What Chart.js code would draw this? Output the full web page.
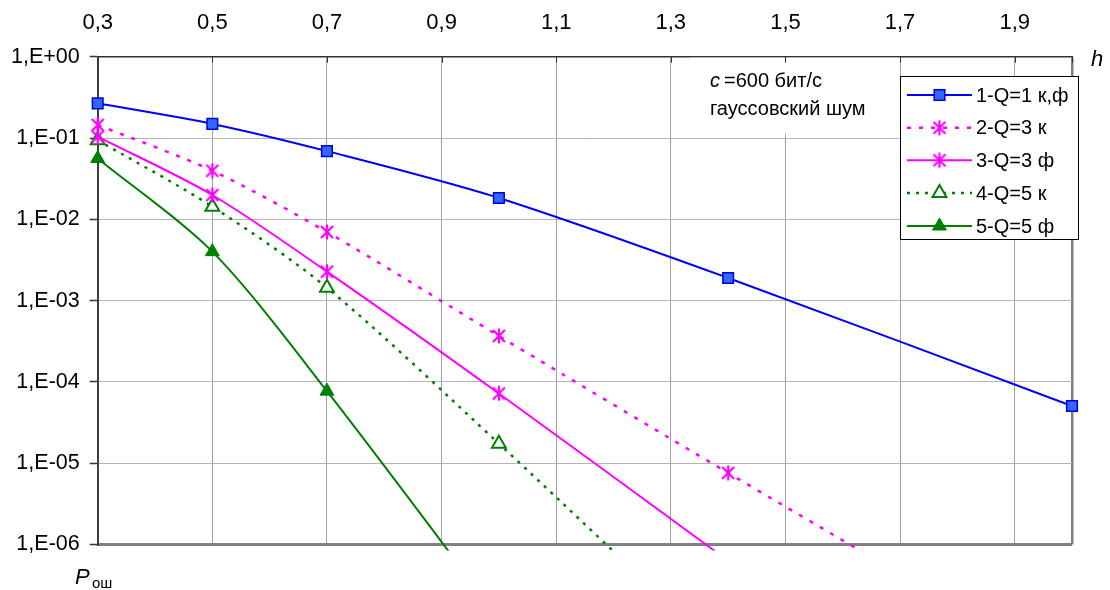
<!DOCTYPE html>
<html>
<head>
<meta charset="utf-8">
<script src="https://cdn.jsdelivr.net/npm/chart.js@4"></script>
<style>
  html, body { margin: 0; padding: 0; background: #fff; }
  #wrap { width: 1110px; height: 590px; }
</style>
</head>
<body>
<div id="wrap"><canvas id="myChart" width="1110" height="590"></canvas></div>
<script>
// значения h (ось X сверху)
const hValues = [0.3, 0.5, 0.7, 1.0, 1.4, 2.0];
const xTicks = [0.3, 0.5, 0.7, 0.9, 1.1, 1.3, 1.5, 1.7, 1.9, 2.0];
const yTicks = [1e-6, 1e-5, 1e-4, 1e-3, 1e-2, 1e-1, 1];

// вероятность ошибки Pош для каждой кривой
const labels = ['1-Q=1 к,ф', '2-Q=3 к', '3-Q=3 ф', '4-Q=5 к', '5-Q=5 ф'];
const q1kf = [0.267, 0.149, 0.069, 0.0183, 0.0019, 5.06e-5];
const q3k = [0.145, 0.0396, 0.00698, 3.67e-4, 7.6e-6, 2.5e-8];
const q3f = [0.104, 0.0199, 0.00227, 7.2e-5, 6.3e-7];
const q5k = [0.094, 0.0143, 0.00144, 1.74e-5, 3.8e-8];
const q5f = [0.056, 0.0040, 7.7e-5, 1.25e-7];

const FONT = '"Liberation Sans", Arial, sans-serif';

function toPoints(ys) {
  return ys.map((y, i) => ({ x: hValues[i], y: y }));
}

// маркер-звёздочка как в Excel (крест + вертикальная черта)
function makeStar(color) {
  const s = 16;
  const c = document.createElement('canvas');
  c.width = s; c.height = s;
  const g = c.getContext('2d');
  g.strokeStyle = color;
  g.lineWidth = 2.2;
  g.beginPath();
  g.moveTo(s / 2, 0.5); g.lineTo(s / 2, s - 0.5);
  g.moveTo(2, 2); g.lineTo(s - 2, s - 2);
  g.moveTo(s - 2, 2); g.lineTo(2, s - 2);
  g.stroke();
  return c;
}
const starMagenta = makeStar('#FF00FF');

const clipArea = { left: 10, top: 10, right: 10, bottom: 6 };

const datasets = [{
  label: labels[0],
  data: toPoints(q1kf),
  borderColor: '#0000FF',
  borderWidth: 2,
  pointStyle: 'rect',
  pointRadius: 7.5,
  pointBackgroundColor: '#3366FF',
  pointBorderColor: '#0000DD',
  pointBorderWidth: 1.5
}, {
  label: labels[1],
  data: toPoints(q3k),
  borderColor: '#FF00FF',
  borderWidth: 2.5,
  borderDash: [4, 8],
  pointStyle: starMagenta,
  pointRadius: 7
}, {
  label: labels[2],
  data: toPoints(q3f),
  borderColor: '#FF00FF',
  borderWidth: 2,
  pointStyle: starMagenta,
  pointRadius: 7
}, {
  label: labels[3],
  data: toPoints(q5k),
  borderColor: '#008000',
  borderWidth: 2.5,
  borderDash: [3, 6],
  pointStyle: 'triangle',
  pointRadius: 8,
  pointBackgroundColor: '#FFFFFF',
  pointBorderColor: '#008000',
  pointBorderWidth: 2
}, {
  label: labels[4],
  data: toPoints(q5f),
  borderColor: '#008000',
  borderWidth: 2,
  pointStyle: 'triangle',
  pointRadius: 8,
  pointBackgroundColor: '#008000',
  pointBorderColor: '#008000',
  pointBorderWidth: 1
}];
datasets.forEach(ds => {
  ds.tension = 0.3;
  ds.clip = clipArea;
  ds.fill = false;
});

function drawMarker(ctx, ds, x, y) {
  const st = ds.pointStyle;
  const r = ds.pointRadius;
  ctx.save();
  ctx.setLineDash([]);
  if (st instanceof HTMLCanvasElement) {
    ctx.drawImage(st, x - st.width / 2, y - st.height / 2);
  } else if (st === 'rect') {
    const h = r * Math.SQRT1_2;
    ctx.fillStyle = ds.pointBackgroundColor;
    ctx.strokeStyle = ds.pointBorderColor;
    ctx.lineWidth = ds.pointBorderWidth;
    ctx.fillRect(x - h, y - h, 2 * h, 2 * h);
    ctx.strokeRect(x - h, y - h, 2 * h, 2 * h);
  } else if (st === 'triangle') {
    ctx.fillStyle = ds.pointBackgroundColor;
    ctx.strokeStyle = ds.pointBorderColor;
    ctx.lineWidth = ds.pointBorderWidth;
    ctx.beginPath();
    ctx.moveTo(x, y - r);
    ctx.lineTo(x + r * 0.866, y + r / 2);
    ctx.lineTo(x - r * 0.866, y + r / 2);
    ctx.closePath();
    ctx.fill();
    ctx.stroke();
  }
  ctx.restore();
}

// подписи, рамка с текстом и легенда
const extras = {
  id: 'extras',
  beforeDatasetsDraw(chart) {
    const ctx = chart.ctx;
    const xs = chart.scales.x;
    const top = chart.chartArea.top;
    ctx.save();
    // белая подложка под надписью
    ctx.fillStyle = '#FFFFFF';
    ctx.fillRect(690, top + 1, 209, 76);
    // короткие засечки сверху
    ctx.strokeStyle = '#333';
    ctx.lineWidth = 1;
    xTicks.forEach(v => {
      const px = Math.round(xs.getPixelForValue(v)) + 0.5;
      ctx.beginPath();
      ctx.moveTo(px, top);
      ctx.lineTo(px, top + 6);
      ctx.stroke();
    });
    ctx.fillStyle = '#000';
    ctx.textBaseline = 'alphabetic';
    ctx.font = 'italic 20px ' + FONT;
    ctx.fillText('c', 710, 87);
    const cw = ctx.measureText('c').width;
    ctx.font = '20px ' + FONT;
    ctx.fillText('=600 бит/с', 710 + cw + 4, 87);
    ctx.fillText('гауссовский шум', 710, 115);
    ctx.restore();
  },
  afterDraw(chart) {
    const ctx = chart.ctx;
    ctx.save();
    ctx.fillStyle = '#000';
    ctx.font = 'italic 22px ' + FONT;
    ctx.fillText('h', 1091, 66);
    ctx.font = 'italic 22px ' + FONT;
    ctx.fillText('P', 75, 584);
    ctx.font = '15px ' + FONT;
    ctx.fillText('ош', 92, 588);

    // легенда
    const bx = 900.5, by = 76.5, bw = 178, bh = 163;
    ctx.fillStyle = '#FFFFFF';
    ctx.fillRect(bx, by, bw, bh);
    ctx.strokeStyle = '#000';
    ctx.lineWidth = 1;
    ctx.strokeRect(bx, by, bw, bh);
    const rowY = [95, 127.7, 160.3, 193, 226];
    ctx.font = '20px ' + FONT;
    ctx.textBaseline = 'middle';
    chart.data.datasets.forEach((ds, i) => {
      const y = rowY[i];
      ctx.save();
      ctx.strokeStyle = ds.borderColor;
      ctx.lineWidth = ds.borderWidth;
      ctx.setLineDash(ds.borderDash || []);
      ctx.beginPath();
      ctx.moveTo(907, y);
      ctx.lineTo(972, y);
      ctx.stroke();
      ctx.restore();
      drawMarker(ctx, ds, 939.5, y);
      ctx.fillStyle = '#000';
      ctx.fillText(ds.label, 976, y + 1);
    });
    ctx.restore();
  }
};

const ctx = document.getElementById('myChart').getContext('2d');
const myChart = new Chart(ctx, {
  type: 'line',
  data: { datasets: datasets },
  options: {
    responsive: false,
    animation: false,
    devicePixelRatio: 1,
    layout: { padding: { left: 0, right: 38, top: 0, bottom: 45.5 } },
    plugins: {
      legend: { display: false },
      tooltip: { enabled: false }
    },
    scales: {
      x: {
        type: 'linear',
        position: 'top',
        min: 0.3,
        max: 2.0,
        afterBuildTicks: scale => { scale.ticks = xTicks.map(v => ({ value: v })); },
        afterFit: scale => { scale.height = 56.7; },
        ticks: {
          autoSkip: false,
          maxRotation: 0,
          padding: 20.5,
          color: '#000',
          font: { family: FONT, size: 22 },
          callback: v => (v >= 1.95 ? '' : v.toFixed(1).replace('.', ','))
        },
        grid: {
          drawTicks: false,
          color: c => (c.tick && c.tick.value >= 1.95 ? '#808080' : '#A0A0A0'),
          lineWidth: c => (c.tick && c.tick.value >= 1.95 ? 2.5 : 1)
        },
        border: { color: '#333', width: 1.5 }
      },
      y: {
        type: 'logarithmic',
        min: 1e-6,
        max: 1,
        afterBuildTicks: scale => { scale.ticks = yTicks.map(v => ({ value: v })); },
        afterFit: scale => { scale.width = 97.7; },
        ticks: {
          autoSkip: false,
          padding: 10,
          color: '#000',
          font: { family: FONT, size: 21.5 },
          callback: v => {
            const e = Math.round(Math.log10(v));
            const s = String(Math.abs(e)).padStart(2, '0');
            return '1,E' + (e < 0 ? '-' : '+') + s;
          }
        },
        grid: {
          drawTicks: true,
          tickLength: 8,
          tickColor: '#333',
          tickWidth: 1.5,
          color: c => (c.tick && c.tick.value < 2e-6 ? '#808080' : '#B4B4B4'),
          lineWidth: c => (c.tick && c.tick.value < 2e-6 ? 3 : 1)
        },
        border: { color: '#404040', width: 2 }
      }
    }
  },
  plugins: [extras]
});
</script>
</body>
</html>
